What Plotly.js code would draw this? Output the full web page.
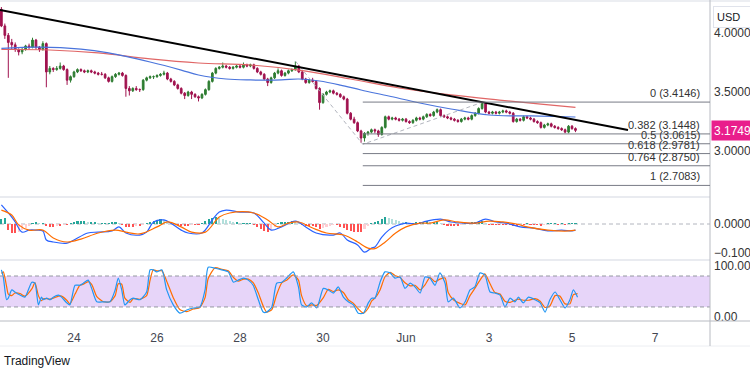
<!DOCTYPE html>
<html><head><meta charset="utf-8">
<script src="https://cdn.plot.ly/plotly-3.0.1.min.js"></script>
<style>html,body{margin:0;padding:0;background:#fff;}#chart{width:750px;height:375px;}</style>
</head><body><div id="chart"></div>
<script>
// ---- data (2h candles starting 2024-05-22 06:00) ----
const startTime = Date.UTC(2024,4,22,6,0,0);
const stepHours = 2;

const open = [4.20,4.06,3.98,3.92,3.90,3.86,3.84,3.86,3.89,3.88,
3.94,3.88,3.86,3.91,3.67,3.70,3.69,3.70,3.72,3.69,
3.60,3.63,3.67,3.69,3.68,3.67,3.68,3.67,3.66,3.65,
3.65,3.62,3.59,3.63,3.65,3.66,3.64,3.53,3.51,3.53,
3.52,3.52,3.60,3.62,3.63,3.63,3.64,3.65,3.66,3.61,
3.59,3.56,3.53,3.49,3.47,3.50,3.48,3.46,3.45,3.48,
3.52,3.59,3.66,3.70,3.71,3.72,3.71,3.70,3.71,3.72,
3.71,3.73,3.72,3.73,3.70,3.67,3.65,3.61,3.58,3.62,
3.66,3.68,3.64,3.66,3.68,3.69,3.72,3.67,3.61,3.58,
3.60,3.59,3.53,3.41,3.48,3.50,3.51,3.49,3.48,3.46,
3.44,3.32,3.27,3.24,3.17,3.11,3.15,3.16,3.18,3.17,
3.14,3.20,3.29,3.27,3.28,3.27,3.26,3.27,3.25,3.24,
3.26,3.28,3.27,3.29,3.31,3.30,3.33,3.35,3.30,3.29,
3.28,3.27,3.26,3.25,3.27,3.28,3.27,3.30,3.32,3.36,
3.40,3.33,3.32,3.33,3.32,3.33,3.34,3.33,3.32,3.25,
3.27,3.26,3.29,3.28,3.27,3.25,3.24,3.20,3.22,3.23,
3.21,3.20,3.19,3.18,3.16,3.21,3.19];
const high = [4.22,4.08,4.00,3.95,3.92,3.87,3.88,3.90,3.91,3.96,
3.95,3.89,3.93,3.92,3.72,3.71,3.72,3.75,3.73,3.70,
3.64,3.68,3.70,3.70,3.69,3.69,3.69,3.68,3.67,3.67,
3.66,3.63,3.64,3.66,3.67,3.67,3.65,3.55,3.54,3.55,
3.53,3.61,3.63,3.64,3.64,3.65,3.66,3.68,3.67,3.62,
3.60,3.57,3.54,3.50,3.51,3.51,3.49,3.47,3.49,3.53,
3.60,3.67,3.71,3.72,3.75,3.73,3.72,3.72,3.73,3.73,
3.75,3.74,3.74,3.74,3.71,3.68,3.66,3.62,3.63,3.67,
3.70,3.69,3.67,3.69,3.70,3.76,3.73,3.68,3.62,3.61,
3.62,3.60,3.54,3.49,3.51,3.52,3.52,3.50,3.49,3.47,
3.45,3.33,3.29,3.25,3.18,3.16,3.17,3.19,3.19,3.18,
3.21,3.30,3.30,3.29,3.29,3.28,3.28,3.28,3.26,3.27,
3.29,3.29,3.30,3.32,3.32,3.34,3.36,3.36,3.31,3.30,
3.29,3.28,3.27,3.28,3.29,3.29,3.31,3.33,3.37,3.415,
3.41,3.34,3.34,3.34,3.34,3.35,3.35,3.34,3.33,3.28,
3.28,3.30,3.30,3.29,3.28,3.26,3.25,3.23,3.24,3.24,
3.22,3.21,3.20,3.19,3.22,3.22,3.20];
const low = [4.05,3.95,3.62,3.86,3.84,3.81,3.82,3.85,3.86,3.87,
3.86,3.84,3.85,3.54,3.65,3.67,3.68,3.69,3.68,3.56,
3.58,3.62,3.66,3.67,3.66,3.66,3.66,3.65,3.64,3.64,
3.61,3.58,3.58,3.62,3.64,3.63,3.46,3.47,3.50,3.51,
3.50,3.51,3.59,3.61,3.61,3.62,3.63,3.64,3.60,3.58,
3.55,3.52,3.48,3.44,3.46,3.44,3.45,3.42,3.44,3.47,
3.51,3.58,3.65,3.69,3.70,3.70,3.69,3.69,3.70,3.70,
3.70,3.71,3.71,3.69,3.66,3.64,3.60,3.55,3.57,3.61,
3.65,3.63,3.63,3.65,3.67,3.68,3.66,3.60,3.57,3.57,
3.58,3.52,3.35,3.40,3.47,3.49,3.48,3.47,3.45,3.43,
3.31,3.26,3.23,3.16,3.07,3.08,3.13,3.15,3.15,3.12,
3.13,3.19,3.26,3.26,3.26,3.25,3.25,3.24,3.23,3.23,
3.25,3.26,3.26,3.28,3.29,3.29,3.32,3.29,3.28,3.27,
3.26,3.25,3.24,3.24,3.26,3.26,3.26,3.29,3.31,3.35,
3.32,3.31,3.31,3.31,3.31,3.32,3.32,3.31,3.24,3.24,
3.25,3.25,3.27,3.26,3.24,3.23,3.19,3.19,3.21,3.20,
3.19,3.18,3.17,3.15,3.15,3.18,3.16];
const close = [4.06,3.98,3.92,3.90,3.86,3.84,3.86,3.89,3.88,3.94,
3.88,3.86,3.91,3.67,3.70,3.69,3.70,3.72,3.69,3.60,
3.63,3.67,3.69,3.68,3.67,3.68,3.67,3.66,3.65,3.65,
3.62,3.59,3.63,3.65,3.66,3.64,3.53,3.51,3.53,3.52,
3.52,3.60,3.62,3.63,3.63,3.64,3.65,3.66,3.61,3.59,
3.56,3.53,3.49,3.47,3.50,3.48,3.46,3.45,3.48,3.52,
3.59,3.66,3.70,3.71,3.72,3.71,3.70,3.71,3.72,3.71,
3.73,3.72,3.73,3.70,3.67,3.65,3.61,3.58,3.62,3.66,
3.68,3.64,3.66,3.68,3.69,3.72,3.67,3.61,3.58,3.60,
3.59,3.53,3.41,3.48,3.50,3.51,3.49,3.48,3.46,3.44,
3.32,3.27,3.24,3.17,3.11,3.15,3.16,3.18,3.17,3.14,
3.20,3.29,3.27,3.28,3.27,3.26,3.27,3.25,3.24,3.26,
3.28,3.27,3.29,3.31,3.30,3.33,3.35,3.30,3.29,3.28,
3.27,3.26,3.25,3.27,3.28,3.27,3.30,3.32,3.36,3.40,
3.33,3.32,3.33,3.32,3.33,3.34,3.33,3.32,3.25,3.27,
3.26,3.29,3.28,3.27,3.25,3.24,3.20,3.22,3.23,3.21,
3.20,3.19,3.18,3.16,3.21,3.19,3.1749];

// moving averages (candle index, price)
const maBlueIdx = [0,11,23,31,43,52,57,65,72,81,86,92,98,104,112,121,130,141,153,166];
const maBlueVal = [3.869,3.881,3.864,3.831,3.754,3.686,3.644,3.610,3.602,3.602,3.610,3.593,3.559,3.517,3.466,3.407,3.356,3.305,3.297,3.288];
const maRedIdx = [0,14,28,43,57,72,86,101,115,130,144,156,166];
const maRedVal = [3.860,3.856,3.831,3.780,3.746,3.729,3.686,3.610,3.534,3.475,3.432,3.398,3.369];

// trend line and fib drawing anchors
const trendTimes = ['2024-05-22 05:12','2024-06-06 08:23'];
const trendPrices = [4.195,3.178];
const fibPathTimes = ['2024-05-29 08:00','2024-05-30 23:00','2024-06-02 20:30'];
const fibPathPrices = [3.763,3.057,3.4146];
const fibRatios = ['0','0.382','0.5','0.618','0.764','1'];
const fibPrices = [3.4146,3.1448,3.0615,2.9781,2.8750,2.7083];

// MACD
const macdHist = [0.017,0.021,-0.021,-0.031,-0.031,-0.028,-0.021,-0.014,-0.007,0.003,
0.007,0.003,0.003,-0.007,-0.010,-0.010,-0.007,-0.007,-0.003,-0.003,
0.003,0.007,0.010,0.010,0.010,0.007,0.007,0.007,0.003,0.003,
0.003,0.003,0.007,0.007,0.003,-0.003,-0.010,-0.010,-0.010,-0.007,
-0.007,-0.003,0.003,0.007,0.010,0.014,0.017,0.014,0.007,0.003,
0.003,-0.003,-0.007,-0.007,-0.007,-0.003,-0.003,-0.003,0.003,0.010,
0.017,0.021,0.024,0.021,0.017,0.014,0.010,0.007,0.007,0.003,
0.003,0.003,0.003,-0.003,-0.010,-0.017,-0.024,-0.028,-0.021,-0.010,
0.003,0.007,0.007,0.007,0.010,0.007,0.003,-0.003,-0.007,-0.007,
-0.007,-0.010,-0.017,-0.014,-0.010,-0.007,-0.003,-0.003,-0.010,-0.014,
-0.021,-0.024,-0.028,-0.028,-0.028,-0.017,-0.007,0.003,0.007,0.010,
0.017,0.024,0.021,0.017,0.014,0.010,0.007,0.007,0.003,0.003,
0.007,0.007,0.007,0.010,0.007,0.007,0.007,0.003,-0.003,-0.007,
-0.007,-0.007,-0.007,-0.003,0.003,0.003,0.007,0.007,0.010,0.010,
0.003,-0.003,-0.003,-0.003,-0.003,-0.003,-0.003,-0.003,-0.007,-0.007,
-0.003,-0.003,0.003,-0.003,-0.003,-0.003,-0.007,-0.003,0.003,0.003,
0.003,-0.003,0.003,-0.003,0.003,0.003,0.003];
const macdIdx = [0,3,4,6,8,10,12,13,15,19,21,25,28,32,34,36,40,42,44,47,49,52,54,58,61,63,65,69,73,76,78,81,85,88,91,96,98,100,103,105,107,108,110,112,114,117,120,122,127,130,134,137,140,143,146,150,154,158,162,165,166];
const macdVal = [0.066,0.024,0.007,-0.028,-0.021,-0.021,-0.024,-0.055,-0.062,-0.066,-0.055,-0.031,-0.028,-0.024,-0.010,-0.031,-0.038,-0.028,0.007,0.014,0.003,-0.021,-0.031,-0.031,0.014,0.041,0.048,0.041,0.038,0.003,-0.021,-0.010,0.010,-0.010,-0.031,-0.038,-0.031,-0.055,-0.072,-0.097,-0.083,-0.079,-0.045,-0.021,-0.007,0.003,0,0.007,0.017,0.007,0.003,0.003,0.017,0.007,0.003,-0.010,-0.014,-0.024,-0.021,-0.024,-0.021];
const sigIdx = [0,3,5,8,12,15,19,23,28,33,36,40,45,48,52,55,59,63,66,73,77,80,83,86,90,94,99,103,106,108,111,114,117,121,124,128,132,137,141,145,149,152,158,164,166];
const sigVal = [0.048,0.031,-0.003,-0.021,-0.021,-0.048,-0.062,-0.052,-0.031,-0.021,-0.028,-0.034,-0.010,0.007,-0.010,-0.028,-0.028,0.024,0.038,0.038,0.014,-0.010,0.003,0.007,-0.014,-0.031,-0.038,-0.062,-0.083,-0.085,-0.062,-0.031,-0.010,0.003,0.003,0.014,0.007,0.003,0.010,0.007,0,-0.010,-0.021,-0.024,-0.021];

// Stoch RSI
const stIdx = [0,0.56,1.5,2.0,3.0,3.9,5.4,6.8,8.8,9.7,
10.7,11.6,12.1,13.1,14.1,15.0,16.5,17.4,18.9,19.8,
21.3,22.7,23.7,25.1,26.1,27.6,29.5,31.4,32.9,33.8,
34.8,35.7,37.2,38.1,40.1,42.0,43.0,43.9,44.9,46.4,
47.8,49.7,51.6,53.6,55.5,57.4,58.9,59.8,61.8,63.7,
65.6,67.1,68.5,70.0,71.4,72.8,74.3,75.7,76.7,78.2,
79.6,81.1,82.5,84.4,85.9,86.8,88.3,89.7,91.2,93.1,
94.5,96.0,97.4,98.9,100.3,101.8,103.2,104.7,106.1,107.1,
108.0,109.5,110.9,112.4,113.8,115.3,116.7,118.2,119.6,121.1,
122.5,123.9,125.4,126.8,128.3,129.2,130.7,132.6,134.1,135.5,
136.9,138.4,139.8,141.3,142.7,144.2,145.6,147.1,148.5,149.5,
150.9,152.4,154.3,155.8,157.2,158.6,160.1,161.5,163.0,164.4,
165.4,166.6];
const stK = [92,78,34,37,53,49,43,39,68,66,
24,39,34,37,34,39,43,39,28,24,
62,62,66,72,56,30,30,30,53,76,
53,24,34,37,34,49,92,92,88,92,
53,24,8,14,18,20,53,97,95,92,
88,68,72,76,72,62,34,10,10,20,
66,68,76,88,59,24,20,28,18,56,
53,47,59,39,30,24,8,8,28,37,
37,68,88,86,76,78,56,66,59,47,
78,76,62,86,66,30,37,18,30,53,
59,86,82,49,47,43,20,37,30,39,
28,39,34,28,10,34,49,34,18,34,
53,39];
const stD = [85,88,60,45,42,47,46,41,55,67,
42,32,36,36,35,37,41,41,33,26,
45,62,64,69,64,40,30,30,42,65,
64,37,29,36,35,42,72,92,90,90,
70,38,15,11,16,19,38,75,96,93,
90,77,70,74,74,67,47,22,10,15,
44,67,72,82,72,42,22,24,23,38,
54,50,53,48,34,27,16,8,18,32,
37,53,78,87,81,77,67,61,62,53,
63,77,69,74,76,48,34,27,24,42,
56,72,84,65,48,45,31,29,33,35,
33,33,36,31,19,22,42,41,26,26,
44,46];

const xTickVals = ['2024-05-24','2024-05-26','2024-05-28','2024-05-30','2024-06-01','2024-06-03','2024-06-05','2024-06-07'];
const xTickText = ['24','26','28','30','Jun','3','5','7'];
const xRange = ['2024-05-22 05:12','2024-06-08 07:48'];

// ---- helpers ----
function t(i){ return new Date(startTime + i*stepHours*3600000).toISOString().slice(0,19).replace('T',' '); }
const times = close.map((_, i) => t(i));
const lastPrice = close[close.length-1];

const histColors = macdHist.map((v, i) => {
  const p = i > 0 ? macdHist[i-1] : v;
  if (v >= 0) return v >= p ? '#26a69a' : '#b2dfdb';
  return v <= p ? '#ff5252' : '#ffcdd2';
});

const FONT = 'Liberation Sans, Arial, sans-serif';
const traces = [
  {type:'scatter', mode:'lines', x: maRedIdx.map(t), y: maRedVal, line:{color:'#e06666', width:1.2, shape:'spline'}, hoverinfo:'skip', xaxis:'x', yaxis:'y'},
  {type:'scatter', mode:'lines', x: maBlueIdx.map(t), y: maBlueVal, line:{color:'#4a74dc', width:1.2, shape:'spline'}, hoverinfo:'skip', xaxis:'x', yaxis:'y'},
  {type:'scatter', mode:'lines', x: fibPathTimes, y: fibPathPrices, line:{color:'#b2b5be', width:1, dash:'4px,3px'}, hoverinfo:'skip', xaxis:'x', yaxis:'y'},
  {type:'candlestick', x: times, open, high, low, close, xaxis:'x', yaxis:'y',
   increasing:{line:{color:'#2e7d32', width:1}, fillcolor:'#2e7d32'},
   decreasing:{line:{color:'#a0134f', width:1}, fillcolor:'#a0134f'},
   whiskerwidth:0, hoverinfo:'skip'},
  {type:'scatter', mode:'lines', x: trendTimes, y: trendPrices, line:{color:'#000000', width:2}, hoverinfo:'skip', xaxis:'x', yaxis:'y'},
  {type:'bar', x: times, y: macdHist, marker:{color: histColors, line:{width:0}}, width: 3600000*1.2, hoverinfo:'skip', xaxis:'x', yaxis:'y2'},
  {type:'scatter', mode:'lines', x: macdIdx.map(t), y: macdVal, line:{color:'#2962ff', width:1.2, shape:'spline'}, hoverinfo:'skip', xaxis:'x', yaxis:'y2'},
  {type:'scatter', mode:'lines', x: sigIdx.map(t), y: sigVal, line:{color:'#ff6d00', width:1.2, shape:'spline'}, hoverinfo:'skip', xaxis:'x', yaxis:'y2'},
  {type:'scatter', mode:'lines', x: stIdx.map(t), y: stD, line:{color:'#ff6d00', width:1.2, shape:'spline', smoothing:0.6}, hoverinfo:'skip', xaxis:'x', yaxis:'y3'},
  {type:'scatter', mode:'lines', x: stIdx.map(t), y: stK, line:{color:'#2196f3', width:1.2, shape:'spline', smoothing:0.6}, hoverinfo:'skip', xaxis:'x', yaxis:'y3'}
];

const H = 321; // plot-area height in px
const shapes = [
  {type:'rect', xref:'paper', yref:'y3', x0:0, x1:1, y0:20, y1:80, fillcolor:'rgba(155,80,230,0.24)', line:{width:0}, layer:'below'},
  {type:'line', xref:'paper', yref:'y3', x0:0, x1:1, y0:80, y1:80, line:{color:'#9598a1', width:1, dash:'4px,3px'}},
  {type:'line', xref:'paper', yref:'y3', x0:0, x1:1, y0:20, y1:20, line:{color:'#9598a1', width:1, dash:'4px,3px'}},
  {type:'line', xref:'paper', yref:'y2', x0:0, x1:1, y0:0, y1:0, line:{color:'#b2b5be', width:1, dash:'4px,3px'}, layer:'below'},
  {type:'line', xref:'paper', yref:'paper', x0:0, x1:1, y0:1-197/H, y1:1-197/H, line:{color:'#e9ebf0', width:2}},
  {type:'line', xref:'paper', yref:'paper', x0:0, x1:1, y0:1-260/H, y1:1-260/H, line:{color:'#e9ebf0', width:2}},
  {type:'line', xref:'paper', yref:'paper', x0:0, x1:750/710, y0:0, y1:0, line:{color:'#b8bbc2', width:1}},
  {type:'line', xref:'paper', yref:'paper', x0:0, x1:750/710, y0:-25/H, y1:-25/H, line:{color:'#eceef2', width:1}},
  {type:'line', xref:'paper', yref:'paper', x0:0, x1:750/710, y0:1-1/H, y1:1-1/H, line:{color:'#eceef2', width:2}},
  {type:'line', xref:'paper', yref:'paper', x0:1, x1:1, y0:-25/H, y1:1, line:{color:'#b8bbc2', width:1}}
];
fibPrices.forEach(p => shapes.push({type:'line', xref:'x', yref:'y', x0: fibPathTimes[1], x1: xRange[1], y0:p, y1:p, line:{color:'#787b86', width:1}}));

const annotations = fibPrices.map((p, k) => ({
  xref:'paper', yref:'y', x:702/710, y:p, xanchor:'right', yanchor:'bottom', yshift:1,
  text: fibRatios[k] + ' (' + p.toFixed(4) + ')', showarrow:false,
  font:{family:FONT, size:11, color:'#333333'}
}));
annotations.push({xref:'paper', yref:'y', x:711/710, y:lastPrice, xanchor:'left', yanchor:'middle',
  text: lastPrice.toFixed(4), showarrow:false, bgcolor:'#e91e8c', borderpad:2, width:40, height:15, align:'left',
  font:{family:FONT, size:12, color:'#ffffff'}});
annotations.push({xref:'paper', yref:'paper', x:713/710, y:1-17/H, xanchor:'left', yanchor:'middle',
  text:'USD', showarrow:false, bgcolor:'#ffffff', bordercolor:'#e0e3eb', borderwidth:1, borderpad:3, width:34, height:14, align:'left',
  font:{family:FONT, size:11, color:'#131722'}});
annotations.push({xref:'paper', yref:'paper', x:2/710, y:-40/H, xanchor:'left', yanchor:'middle',
  text:'TradingView', showarrow:false, font:{family:FONT, size:12, color:'#131722'}});

const yCommon = {side:'right', showgrid:false, zeroline:false, showline:false, ticks:'', fixedrange:true,
  tickfont:{family:FONT, size:12, color:'#333333'}, ticklabelstandoff:3};
const layout = {
  width:750, height:375, margin:{l:0, r:40, t:0, b:54},
  paper_bgcolor:'#ffffff', plot_bgcolor:'#ffffff', showlegend:false, bargap:0,
  xaxis:{type:'date', range:xRange, anchor:'y3', tickvals:xTickVals, ticktext:xTickText,
    showgrid:false, zeroline:false, showline:false, ticks:'', rangeslider:{visible:false},
    ticklabelstandoff:8, tickfont:{family:FONT, size:12, color:'#434651'}},
  yaxis: Object.assign({}, yCommon, {domain:[1-197/H, 1], range:[2.6102, 4.2797], tickvals:[3,3.5,4], ticktext:['3.0000','3.5000','4.0000']}),
  yaxis2: Object.assign({}, yCommon, {domain:[1-260/H, 1-197/H], range:[-0.1241, 0.0931], tickvals:[0,-0.1], ticktext:['0.0000','\u22120.1000']}),
  yaxis3: Object.assign({}, yCommon, {domain:[0, 1-260/H], range:[-7.2, 111], tickvals:[0,100], ticktext:['0.00','100.00']}),
  shapes, annotations
};
Plotly.newPlot('chart', traces, layout, {staticPlot:true, displayModeBar:false});
</script></body></html>
